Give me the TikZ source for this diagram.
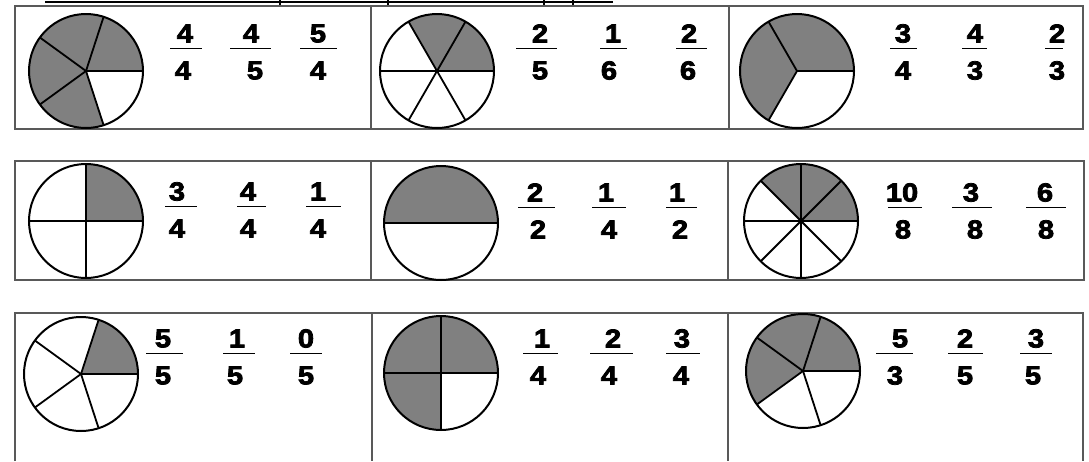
\documentclass[tikz,border=0pt]{standalone}
\usepackage{fontspec}
\setmainfont{Liberation Sans}
\newfontfamily\fracfont[FakeStretch=1.12, FakeBold=3]{Liberation Sans Bold}

\begin{document}
\begin{tikzpicture}[x=1pt, y=-1pt,
  frame/.style={draw=black!65, line width=1.2pt},
  rim/.style={draw=black, line width=2pt},
  spoke/.style={black, line width=1.8pt},
  shade/.style={fill=black!50},
  num/.style={font=\fracfont\fontsize{26}{26}\selectfont, inner sep=0pt},
  bar/.style={black, line width=1pt}]

% Круг из #2 равных долей, #3 из них закрашено (от 0 градусов против часовой).
\newcommand{\fracpie}[3]{%
  \begin{scope}[shift={#1}, yscale=-1]
    \fill[shade] (0,0) -- (0:57) arc[start angle=0, end angle={360*#3/#2}, radius=57] -- cycle;
    \foreach \k in {1,...,#2} { \draw[spoke] (0,0) -- ({360*(\k-1)/#2}:57); }
    \draw[rim] (0,0) circle[radius=57];
  \end{scope}%
}

\useasboundingbox (0,0) rectangle (1089,461);

% ---------- обрезанный заголовок: видна только черта подчёркивания
\draw[line width=1.5pt] (45,2) coordinate (ul0) -- (613,2) coordinate (ul1);
\foreach \x in {280,388,544,573} { \draw[line width=1.5pt] (\x,0) -- (\x,5); }

% ---------- рамки
\draw[frame] (15,6) rectangle (1083,129);
\draw[frame] (371,6) -- (371,129) (729,6) -- (729,129);
\draw[frame] (15,161) rectangle (1084,280);
\draw[frame] (371,161) -- (371,280) (728,161) -- (728,280);
\draw[frame] (15,461) |- (1083,313) -- (1083,461);
\draw[frame] (372,313) -- (372,461) (728,313) -- (728,461);

% ---------- круги
\fracpie{(86,71)}{5}{4}
\fracpie{(437,71)}{6}{2}
\fracpie{(797,71)}{3}{2}
\fracpie{(86,221)}{4}{1}
\fracpie{(441,223)}{2}{1}
\fracpie{(801,221)}{8}{3}
\fracpie{(81,374)}{5}{1}
\fracpie{(441,373)}{4}{3}
\fracpie{(803,371)}{5}{3}

% ---------- дроби: x числителя / x знаменателя / черта от / до / числитель / знаменатель
\foreach \by/\nx/\dx/\ba/\bb/\n/\d [count=\i] in {%
    48/185/183/170/202/4/4, 48/251/255/230/271/4/5, 48/318/318/300/337/5/4,
    48/540/540/516/557/2/5, 48/613/609/600/627/1/6, 48/689/688/676/707/2/6,
    48/903/903/890/917/3/4, 48/975/975/962/987/4/3, 48/1057/1057/1045/1063/2/3,
    206/177/177/165/197/3/4, 206/248/248/237/266/4/4, 206/318/318/306/341/1/4,
    207/535/538/518/555/2/2, 207/606/609/592/626/1/4, 207/677/680/666/697/1/2,
    207/902/903/888/922/10/8, 207/971/975/952/992/3/8, 207/1045/1046/1026/1066/6/8,
    353/163/163/146/183/5/5, 353/237/235/223/255/1/5, 353/306/306/290/322/0/5,
    353/542/538/523/558/1/4, 353/613/609/590/633/2/4, 353/682/681/666/700/3/4,
    353/900/895/876/913/5/3, 353/965/965/948/983/2/5, 353/1036/1033/1020/1052/3/5}
{
  \node[num] (n\i) at (\nx,\by-14.5) {\n};
  \node[num] (d\i) at (\dx,\by+22.5) {\d};
  \draw[bar] (\ba,\by) coordinate (b\i) -- (\bb,\by);
}
\end{tikzpicture}
\end{document}
